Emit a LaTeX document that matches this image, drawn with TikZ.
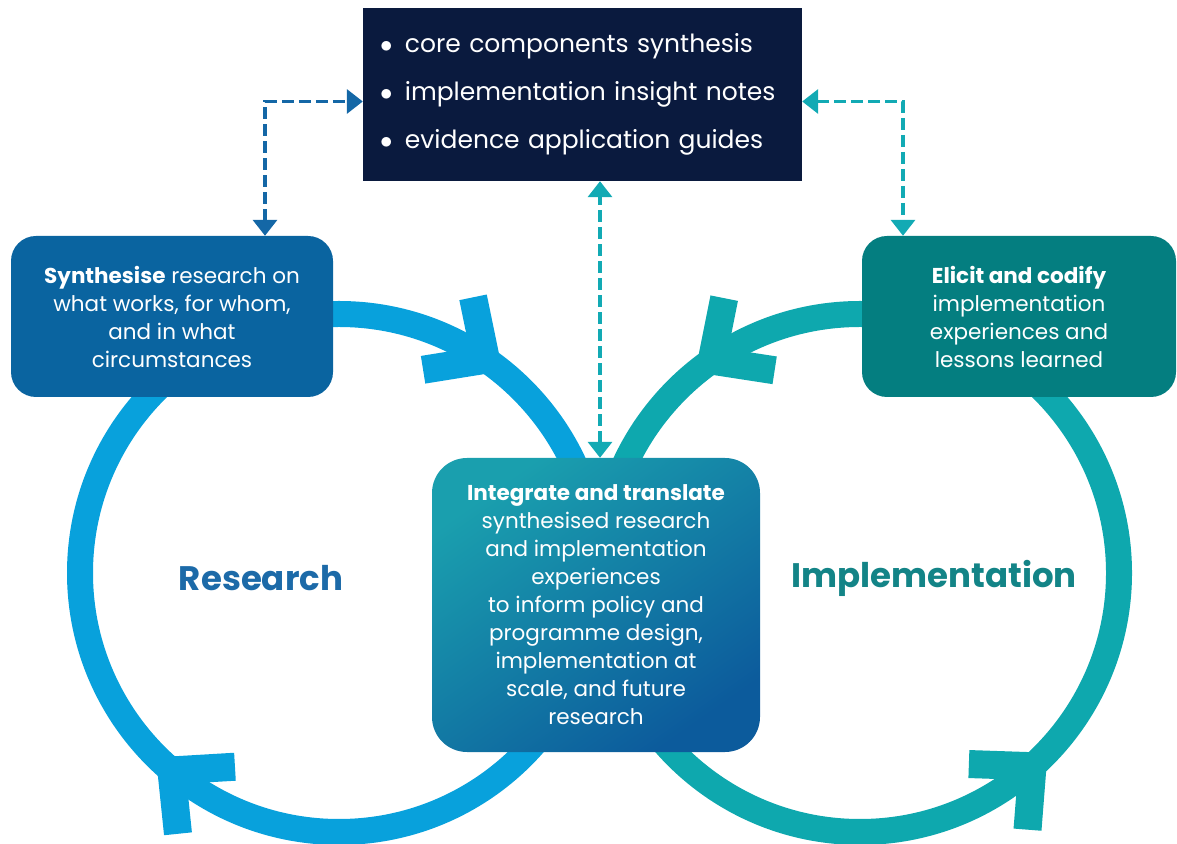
\documentclass[tikz,border=0pt]{standalone}
\usepackage{fontspec}
\setmainfont{Poppins}
\usetikzlibrary{arrows.meta,decorations.markings}

\definecolor{navy}{HTML}{0A1A3E}
\definecolor{synthblue}{HTML}{0A64A0}
\definecolor{elicteal}{HTML}{047E80}
\definecolor{ringblue}{HTML}{08A1DC}
\definecolor{ringteal}{HTML}{0EA8AE}
\definecolor{dashblue}{HTML}{1467A6}
\definecolor{dashteal}{HTML}{12AAB4}
\definecolor{labblue}{HTML}{1C6AA8}
\definecolor{labteal}{HTML}{138487}
\definecolor{ctrteal}{HTML}{1A9FAE}
\definecolor{ctrblue}{HTML}{0C5B9C}

\tikzset{
  ring/.style={line width=26pt},
  barb/.style={line width=28pt, line join=miter},
  stage/.style={rounded corners=25pt, text=white, align=center, inner sep=0pt,
    font=\fontsize{21.5}{28}\selectfont, minimum height=161pt},
  dashlink/.style={line width=3.5pt, dash pattern=on 12pt off 5pt,
    {Triangle[width=24pt,length=16pt]}-{Triangle[width=24pt,length=16pt]}},
  biglabel/.style={font=\fontsize{34}{40}\selectfont\bfseries},
}

\begin{document}
\begin{tikzpicture}[x=1pt, y=1pt]
    \useasboundingbox (0,0) rectangle (1177,843);

    % the two loops
    \coordinate (lc) at (339,270);
    \coordinate (rc) at (860,270);
    \draw[ring, ringblue, postaction={decorate}, decoration={markings,
        mark=at position 0.362 with {\draw[barb, ringblue] (-46,44) -- (0,0) -- (-46,-44);},
        mark=at position 0.846 with {\draw[barb, ringblue] (-46,44) -- (0,0) -- (-46,-44);}}]
        (lc) ++(0:259) arc[start angle=0, end angle=-360, radius=259];
    \draw[ring, ringteal, postaction={decorate}, decoration={markings,
        mark=at position 0.366 with {\draw[barb, ringteal] (-46,44) -- (0,0) -- (-46,-44);},
        mark=at position 0.847 with {\draw[barb, ringteal] (-46,44) -- (0,0) -- (-46,-44);}}]
        (rc) ++(180:259) arc[start angle=180, end angle=540, radius=259];

    \node[biglabel, text=labblue] (research) at (261,265) {Research};
    \node[biglabel, text=labteal] (impl) at (934,265) {Implementation};

    % boxes
    \node[fill=navy, text=white, align=left, text width=405pt, inner xsep=17pt, inner ysep=0pt,
        minimum height=173pt, font=\fontsize{25}{48}\selectfont] (outputs) at (582.5,748.5)
        {$\bullet$\enspace core components synthesis\\
         $\bullet$\enspace implementation insight notes\\
         $\bullet$\enspace evidence application guides};
    \node[stage, fill=synthblue, minimum width=322pt] (synth) at (172,526.5)
        {\textbf{Synthesise} research on\\what works, for whom,\\and in what\\circumstances};
    \node[stage, fill=elicteal, minimum width=314pt] (elicit) at (1019,526.5)
        {\textbf{Elicit and codify}\\implementation\\experiences and\\lessons learned};
    \node[stage, rounded corners=35pt, minimum width=328pt, minimum height=294pt,
        top color=ctrteal, bottom color=ctrblue, shading angle=35] (integ) at (596,238)
        {\textbf{Integrate and translate}\\synthesised research\\and implementation\\experiences\\
         to inform policy and\\programme design,\\implementation at\\scale, and future\\research};

    % links to the outputs
    \draw[dashlink, dashblue] ([xshift=93pt]synth.north) |- ([yshift=-7pt]outputs.west);
    \draw[dashlink, dashteal] ([yshift=-7pt]outputs.east) -| ([xshift=-116pt]elicit.north);
    \draw[dashlink, dashteal] ([xshift=4pt]integ.north) -- ([xshift=4pt]integ.north |- outputs.south);
\end{tikzpicture}
\end{document}
